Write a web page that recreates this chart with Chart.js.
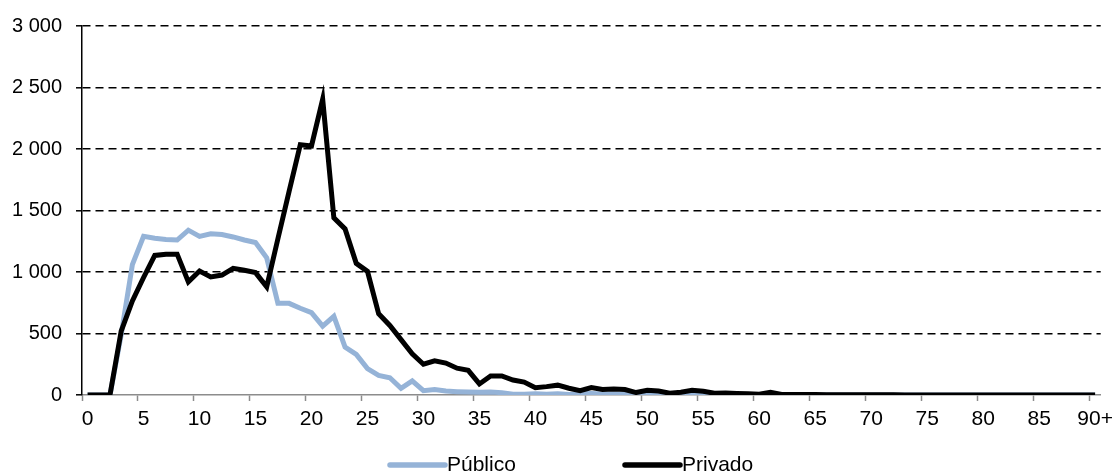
<!DOCTYPE html>
<html>
<head>
<meta charset="utf-8">
<script src="https://cdn.jsdelivr.net/npm/chart.js@4"></script>
<style>
    html, body { margin: 0; padding: 0; background: #fff; }
    #wrap { width: 1119px; height: 474px; }
</style>
</head>
<body>
<div id="wrap"><canvas id="myChart" width="1119" height="474"></canvas></div>
<script>
// DATA :
const ages = [];
for (let i = 0; i < 90; i++) ages.push(String(i));
ages.push('90+');

const publico = [0, 0, 0, 490, 1060, 1290, 1275, 1265, 1260, 1340,
    1290, 1310, 1305, 1285, 1260, 1240, 1115, 745, 745, 705,
    670, 560, 640, 390, 330, 215, 160, 140, 55, 115,
    35, 45, 32, 27, 24, 22, 24, 19, 6, 6,
    10, 6, 10, 5, 10, 12, 8, 8, 6, 4,
    6, 5, 4, 4, 6, 8, 4, 3, 3, 3,
    4, 3, 0, 2, 1, 1, 0, 0, 0, 0,
    0, 0, 0, 0, 0, 0, 0, 0, 0, 0,
    0, 0, 0, 0, 0, 0, 0, 0, 0, 0, 0];

const privado = [0, 0, 0, 520, 765, 955, 1135, 1145, 1145, 920,
    1008, 960, 975, 1030, 1014, 995, 880, 1270, 1655, 2035,
    2025, 2405, 1440, 1350, 1070, 1005, 660, 565, 450, 335,
    250, 278, 260, 218, 200, 90, 155, 155, 122, 105,
    60, 68, 80, 55, 35, 60, 45, 48, 45, 20,
    38, 33, 14, 22, 38, 30, 14, 16, 13, 11,
    6, 22, 5, 4, 5, 4, 3, 3, 2, 2,
    2, 2, 2, 1, 1, 1, 1, 1, 1, 1,
    1, 1, 1, 1, 1, 0, 0, 0, 0, 0, 0];

const yTicks = [0, 500, 1000, 1500, 2000, 2500, 3000];

const FONT = "'Liberation Sans', Arial, sans-serif";

// Legend drawn under the axis :
const bottomLegend = {
    id: 'bottomLegend',
    afterDraw(chart) {
        const c = chart.ctx;
        const starts = [390, 625];
        c.save();
        c.font = `21px ${FONT}`;
        c.textBaseline = 'middle';
        chart.data.datasets.forEach((ds, i) => {
            const x = starts[i];
            const y = 465;
            c.strokeStyle = ds.borderColor;
            c.lineWidth = 5.5;
            c.lineCap = 'round';
            c.beginPath();
            c.moveTo(x, y);
            c.lineTo(x + 55, y);
            c.stroke();
            c.fillStyle = '#000';
            c.fillText(ds.label, x + 57, y);
        });
        c.restore();
    }
};

const ctx = document.getElementById('myChart').getContext('2d');

const data = {
    labels: ages,
    datasets: [{
        label: 'Público',
        data: publico,
        borderColor: '#95b3d7',
        borderWidth: 5,
        pointRadius: 0,
        tension: 0,
        order: 1,
    }, {
        label: 'Privado',
        data: privado,
        borderColor: '#000000',
        borderWidth: 5,
        pointRadius: 0,
        tension: 0,
        order: 0,
    }],
};

const config = {
    type: 'line',
    data: data,
    plugins: [bottomLegend],
    options: {
        responsive: false,
        animation: false,
        layout: { padding: { top: 25, right: 15, left: 0, bottom: 0 } },
        plugins: {
            legend: { display: false },
            tooltip: { enabled: false },
        },
        scales: {
            x: {
                offset: true,
                afterFit: (s) => { s.height = 79; },
                border: { color: '#8c8c8c', width: 1.5 },
                grid: {
                    offset: true,
                    drawOnChartArea: false,
                    tickLength: 6,
                    tickWidth: 1.5,
                    tickColor: (c) => (c.index % 5 === 0 && c.index <= 90) ? '#8c8c8c' : 'rgba(0,0,0,0)',
                },
                ticks: {
                    autoSkip: false,
                    maxRotation: 0,
                    padding: 6,
                    color: '#000',
                    font: { family: FONT, size: 21 },
                    callback: (v, i) => (i % 5 === 0 ? ages[i] : ''),
                },
            },
            y: {
                min: 0,
                max: 3000,
                afterFit: (s) => { s.width = 82; },
                afterBuildTicks: (s) => { s.ticks = yTicks.map((v) => ({ value: v })); },
                border: { color: '#000', width: 1.5, dash: [8, 5] },
                grid: {
                    color: (c) => (c.tick && c.tick.value === 0 ? 'rgba(0,0,0,0)' : '#000'),
                    lineWidth: 1.6,
                    tickLength: 6,
                    tickColor: '#000',
                    tickBorderDash: [],
                    tickWidth: 1.5,
                },
                ticks: {
                    padding: 14,
                    color: '#000',
                    font: { family: FONT, size: 20 },
                    callback: (v) => String(v).replace(/\B(?=(\d{3})+(?!\d))/g, ' '),
                },
            },
        },
    },
};

const myChart = new Chart(ctx, config);
</script>
</body>
</html>
